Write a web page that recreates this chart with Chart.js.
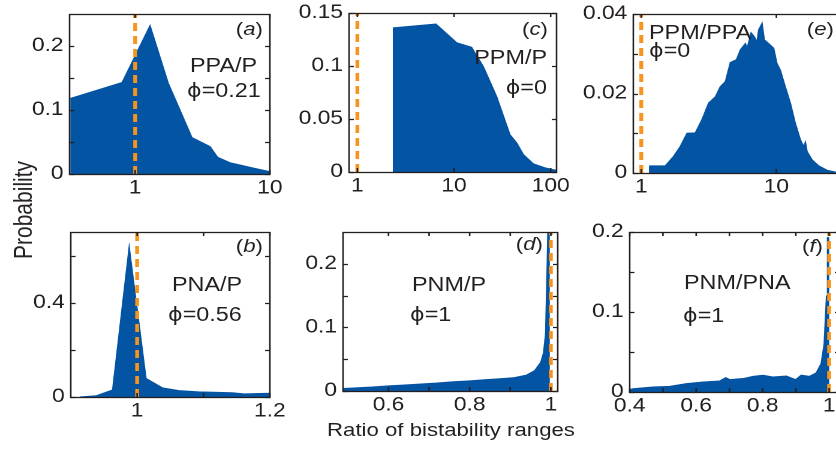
<!DOCTYPE html>
<html>
<head>
<meta charset="utf-8">
<script src="https://cdn.jsdelivr.net/npm/chart.js@4.4.1/dist/chart.umd.min.js"></script>
<style>
  html, body { margin: 0; padding: 0; background: #fff; overflow: hidden; }
  #fig {
    position: relative; width: 697px; height: 450px; overflow: hidden;
    transform: scaleX(1.19943); transform-origin: 0 0;
    font-family: 'Liberation Sans', Arial, sans-serif; color: #231f20;
  }
  .note { position: absolute; white-space: nowrap; }
  .phi { font-family: 'DejaVu Sans', sans-serif; font-size: 0.95em; }
</style>
</head>
<body>
<div id="fig"></div>
<script>
// (a) PPA/P
const aX = [0.33, 0.80, 1.29, 1.76, 2.64, 3.6, 4.1, 5.06, 6.0, 7.7, 10];
const aY = [0.118, 0.143, 0.232, 0.142, 0.057, 0.0427, 0.026, 0.0177, 0.014, 0.0089, 0.0036];

// (c) PPM/P
const cX = [2.36, 2.36, 6.5, 10.66, 15.2, 20.1, 27.6, 37.9, 44.6, 52.2, 66.2, 87.6, 116];
const cY = [0, 0.136, 0.1396, 0.122, 0.1177, 0.0994, 0.0712, 0.0352, 0.0274, 0.0164, 0.0077, 0.0039, 0.0014];

// (e) PPM/PPA
const eX = [1.152, 1.152, 1.506, 1.735, 1.945, 2.18, 2.51, 2.81, 3.15, 3.54, 3.84, 4.19, 4.56, 5.06, 5.42,
            5.9, 6.07, 6.5, 6.87, 7.18, 7.39, 7.84, 8.15, 8.77, 9.56, 10.1, 10.7, 11.65, 12.7, 13.8,
            15.06, 15.9, 16.4, 16.9, 18.4, 20.6, 23.7, 27.8];
const eY = [0, 0.0018, 0.0018, 0.0042, 0.0067, 0.01, 0.0101, 0.0134, 0.0176, 0.0192, 0.0217, 0.023, 0.0278, 0.0285, 0.031,
            0.0326, 0.0314, 0.0353, 0.0343, 0.033, 0.036, 0.0377, 0.0335, 0.0326, 0.0314, 0.0276, 0.0259, 0.0217, 0.0176, 0.0126,
            0.0084, 0.0067, 0.0078, 0.0054, 0.0033, 0.0018, 0.0007, 0.0002];

// (b) PNA/P
const bX = [0.9135, 0.9385, 0.963, 0.988, 1.0134, 1.038, 1.063, 1.093, 1.143, 1.163, 1.2];
const bY = [0, 0.0055, 0.03, 0.637, 0.079, 0.039, 0.027, 0.022, 0.018, 0.013, 0.016];

// (d) PNM/P
const dX = [0.488, 0.52, 0.56, 0.6, 0.64, 0.68, 0.72, 0.76, 0.8, 0.84, 0.88, 0.91, 0.94, 0.96, 0.975, 0.982, 0.987, 0.991, 0.994, 0.996, 0.996];
const dY = [0.004, 0.005, 0.0062, 0.008, 0.0095, 0.011, 0.0125, 0.0145, 0.016, 0.0178, 0.0195, 0.021, 0.025, 0.032, 0.045, 0.06, 0.09, 0.2, 0.3, 0.3, 0];

// (f) PNM/PNA
const fX = [0.4, 0.41, 0.47, 0.52, 0.571, 0.621, 0.671, 0.689, 0.701, 0.741, 0.771, 0.801, 0.831, 0.871, 0.899,
            0.916, 0.941, 0.961, 0.976, 0.985, 0.992, 0.995, 0.9985, 0.9985];
const fY = [0.003, 0.004, 0.0062, 0.007, 0.0105, 0.0125, 0.0138, 0.018, 0.0155, 0.0168, 0.0196, 0.0209, 0.0188, 0.02, 0.0155,
            0.021, 0.0196, 0.0238, 0.0355, 0.06, 0.12, 0.193, 0.193, 0];

// reference ratio = 1 (dashed line)
const refX = 1;

// tick values and which of them get a label
const aTicksX = [1, 10],              aLabelsX = [1, 10];
const aTicksY = [0, 0.05, 0.1, 0.15, 0.2], aLabelsY = [0, 0.1, 0.2];
const cTicksX = [1, 10, 100],         cLabelsX = [1, 10, 100];
const cTicksY = [0, 0.05, 0.1, 0.15], cLabelsY = [0, 0.05, 0.1, 0.15];
const eTicksX = [1, 10],              eLabelsX = [1, 10];
const eTicksY = [0, 0.01, 0.02, 0.03, 0.04], eLabelsY = [0, 0.02, 0.04];
const bTicksX = [1, 1.1, 1.2],        bLabelsX = [1, 1.2];
const bTicksY = [0, 0.2, 0.4, 0.6],   bLabelsY = [0, 0.4];
const dTicksX = [0.6, 0.7, 0.8, 0.9, 1], dLabelsX = [0.6, 0.8, 1];
const dTicksY = [0, 0.05, 0.1, 0.15, 0.2], dLabelsY = [0, 0.1, 0.2];
const fTicksX = [0.4, 0.5, 0.6, 0.7, 0.8, 0.9, 1], fLabelsX = [0.4, 0.6, 0.8, 1];
const fTicksY = [0, 0.05, 0.1, 0.15, 0.2], fLabelsY = [0, 0.1, 0.2];

const blue = '#0454a4', orange = '#f7941d', ink = '#231f20';
const family = "'Liberation Sans', Arial, sans-serif";
const S = 836 / 697;
const fig = document.getElementById('fig');

// box around the plot area, with inward ticks on all four sides
const framePlugin = {
    id: 'frame',
    afterDatasetsDraw(chart) {
        const { ctx, chartArea: a, scales: { x, y } } = chart;
        ctx.save();
        ctx.strokeStyle = ink;
        ctx.lineWidth = 1.3;
        ctx.beginPath();
        x.ticks.forEach(t => {
            const p = x.getPixelForValue(t.value);
            ctx.moveTo(p, a.bottom); ctx.lineTo(p, a.bottom - 4);
            ctx.moveTo(p, a.top); ctx.lineTo(p, a.top + 4);
        });
        y.ticks.forEach(t => {
            const p = Math.round(y.getPixelForValue(t.value)) + 0.5;
            ctx.moveTo(a.left, p); ctx.lineTo(a.left + 4, p);
            ctx.moveTo(a.right, p); ctx.lineTo(a.right - 4, p);
        });
        ctx.stroke();
        ctx.strokeRect(a.left, a.top + 0.5, a.right - a.left, a.bottom - a.top);
        ctx.restore();
    }
};

function makePanel(box, xOpt, yOpt, xs, ys) {
    const padL = 50, padT = 12, padR = 30, padB = 34;
    const w = Math.round((box.r - box.l) / S), h = box.b - box.t;
    const holder = document.createElement('div');
    holder.style.cssText = `position:absolute;left:${box.l / S - padL}px;top:${box.t - padT}px;` +
        `width:${w + padL + padR}px;height:${h + padT + padB}px;`;
    const canvas = document.createElement('canvas');
    holder.appendChild(canvas);
    fig.appendChild(holder);

    const tickFont = { family: family, size: 19 };
    new Chart(canvas, {
        type: 'scatter',
        data: {
            datasets: [
                {
                    data: [{ x: refX, y: yOpt.min }, { x: refX, y: yOpt.max }],
                    showLine: true, fill: false, borderColor: orange, borderWidth: 3.2,
                    borderDash: [8, 5], pointRadius: 0
                },
                {
                    data: xs.map((x, i) => ({ x: x, y: ys[i] })),
                    showLine: true, fill: 'origin', tension: 0,
                    backgroundColor: blue, borderColor: blue, borderWidth: 1, pointRadius: 0
                }
            ]
        },
        options: {
            responsive: true,
            maintainAspectRatio: false,
            animation: false,
            devicePixelRatio: 2,
            events: [],
            layout: { padding: { left: 0, top: padT, right: padR, bottom: 0 } },
            plugins: { legend: { display: false }, tooltip: { enabled: false } },
            scales: {
                x: {
                    type: xOpt.type, min: xOpt.min, max: xOpt.max, bounds: 'data',
                    grid: { display: false, drawTicks: false }, border: { display: false },
                    afterBuildTicks: s => { s.ticks = xOpt.ticks.map(v => ({ value: v })); },
                    afterFit: s => { s.height = padB; s.paddingLeft = 0; s.paddingRight = 0; },
                    ticks: {
                        autoSkip: false, maxRotation: 0, padding: 3, color: ink, font: tickFont,
                        callback: v => xOpt.labels.includes(v) ? String(v) : ''
                    }
                },
                y: {
                    type: 'linear', min: yOpt.min, max: yOpt.max, bounds: 'data',
                    grid: { display: false, drawTicks: false }, border: { display: false },
                    afterBuildTicks: s => { s.ticks = yOpt.ticks.map(v => ({ value: v })); },
                    afterFit: s => { s.width = padL; s.paddingTop = 0; s.paddingBottom = 0; },
                    ticks: {
                        autoSkip: false, padding: 5, color: ink, font: tickFont,
                        callback: v => yOpt.labels.includes(v) ? String(v) : ''
                    }
                }
            }
        },
        plugins: [framePlugin]
    });
}

makePanel({ l: 70, t: 14, r: 270, b: 174 },
    { type: 'logarithmic', min: 0.326, max: 10, ticks: aTicksX, labels: aLabelsX },
    { min: 0, max: 0.25, ticks: aTicksY, labels: aLabelsY }, aX, aY);
makePanel({ l: 349, t: 13, r: 557, b: 172 },
    { type: 'logarithmic', min: 0.82, max: 115, ticks: cTicksX, labels: cLabelsX },
    { min: 0, max: 0.15, ticks: cTicksY, labels: cLabelsY }, cX, cY);
makePanel({ l: 633, t: 14, r: 840, b: 173 },
    { type: 'logarithmic', min: 0.873, max: 30, ticks: eTicksX, labels: eLabelsX },
    { min: 0, max: 0.04, ticks: eTicksY, labels: eLabelsY }, eX, eY);
makePanel({ l: 71, t: 232, r: 270, b: 397 },
    { type: 'linear', min: 0.9, max: 1.2, ticks: bTicksX, labels: bLabelsX },
    { min: 0, max: 0.7, ticks: bTicksY, labels: bLabelsY }, bX, bY);
makePanel({ l: 343, t: 232, r: 558, b: 391 },
    { type: 'linear', min: 0.488, max: 1.017, ticks: dTicksX, labels: dLabelsX },
    { min: 0, max: 0.25, ticks: dTicksY, labels: dLabelsY }, dX, dY);
makePanel({ l: 630, t: 232, r: 840, b: 392 },
    { type: 'linear', min: 0.4, max: 1.0316, ticks: fTicksX, labels: fLabelsX },
    { min: 0, max: 0.2, ticks: fTicksY, labels: fLabelsY }, fX, fY);

// panel texts: html, x (screen px), baseline y, anchor side, font size
const PHI = '<span class="phi">ϕ</span>';
const notes = [
    ['(<i>a</i>)', 263, 36, 'r', 18.5], ['PPA/P', 190, 72.5, 'l', 19.5], [PHI + '=0.21', 187, 98, 'l', 19.5],
    ['(<i>c</i>)', 548, 36, 'r', 18.5], ['PPM/P', 547, 65, 'r', 19.5], [PHI + '=0', 547, 95, 'r', 19.5],
    ['(<i>e</i>)', 834, 36, 'r', 18.5], ['PPM/PPA', 649, 40, 'l', 19.5], [PHI + '=0', 649, 57.5, 'l', 19.5],
    ['(<i>b</i>)', 263, 253, 'r', 18.5], ['PNA/P', 172, 291.5, 'l', 19.5], [PHI + '=0.56', 168, 321.5, 'l', 19.5],
    ['(<i>d</i>)', 543, 251, 'r', 18.5], ['PNM/P', 412, 291.5, 'l', 19.5], [PHI + '=1', 410, 321.5, 'l', 19.5],
    ['(<i>f</i>)', 823, 253, 'r', 18.5], ['PNM/PNA', 684, 290, 'l', 19.5], [PHI + '=1', 683, 323, 'l', 19.5]
];
notes.forEach(([html, x, base, side, fs]) => {
    const el = document.createElement('div');
    el.className = 'note';
    el.innerHTML = html;
    el.style.fontSize = fs + 'px';
    el.style.lineHeight = fs + 'px';
    el.style.top = (base - 0.8465 * fs) + 'px';
    if (side === 'l') el.style.left = (x / S) + 'px';
    else el.style.right = (697 - x / S) + 'px';
    fig.appendChild(el);
});

// axis titles
const xTitle = document.createElement('div');
xTitle.className = 'note';
xTitle.textContent = 'Ratio of bistability ranges';
xTitle.style.cssText += 'font-size:18.5px;line-height:18.5px;transform:translateX(-50%);';
xTitle.style.left = (451 / S) + 'px';
xTitle.style.top = (436.7 - 0.8465 * 18.5) + 'px';
fig.appendChild(xTitle);

const yTitle = document.createElement('div');
yTitle.className = 'note';
yTitle.textContent = 'Probability';
yTitle.style.cssText += 'font-size:21px;line-height:21px;transform:translate(-50%,-50%) rotate(-90deg);';
yTitle.style.left = (22.5 / S) + 'px';
yTitle.style.top = '209.7px';
fig.appendChild(yTitle);
</script>
</body>
</html>
